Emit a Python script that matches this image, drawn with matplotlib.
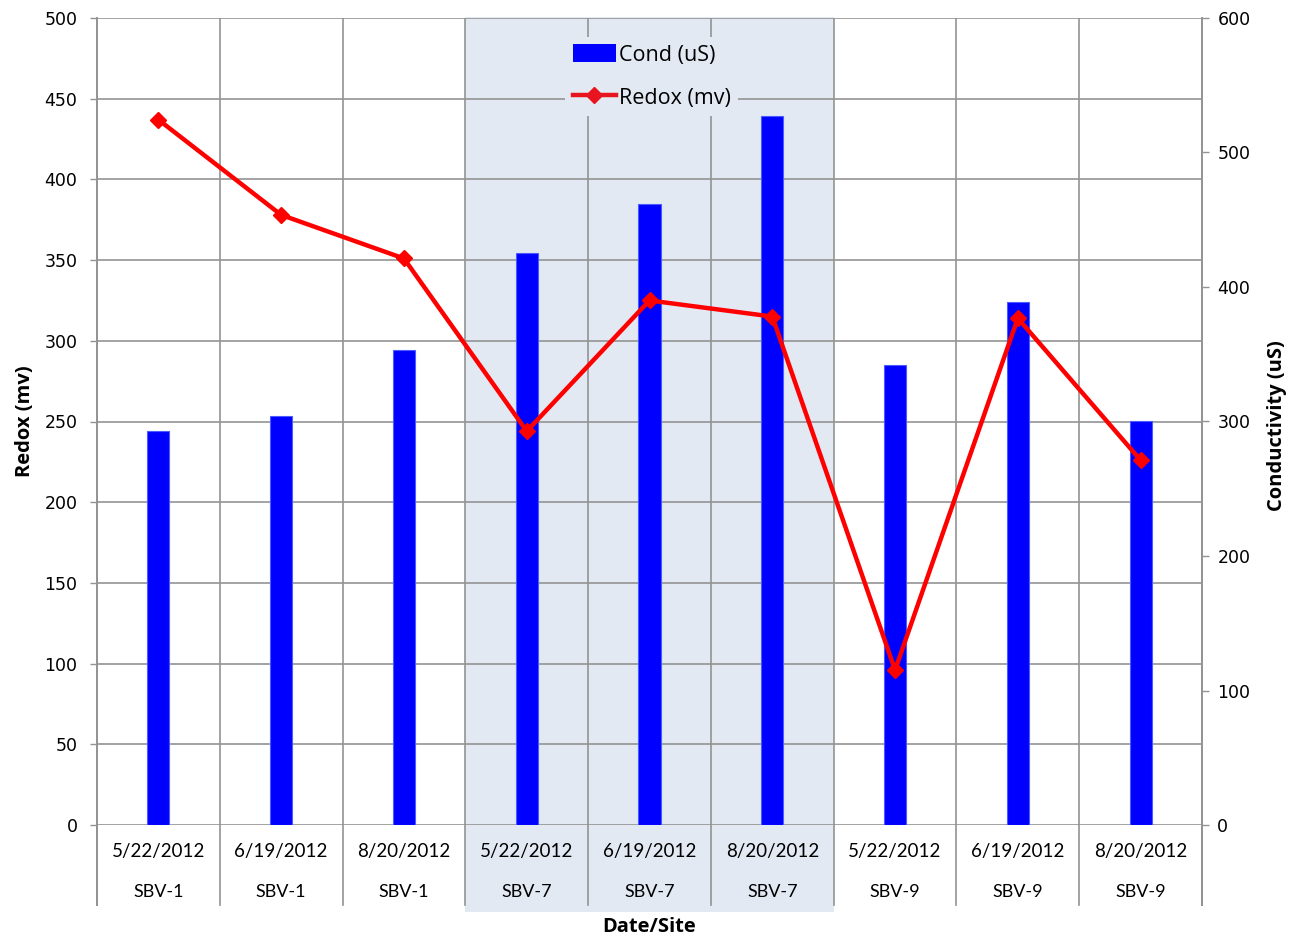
import matplotlib
matplotlib.use("Agg")
import matplotlib.pyplot as plt
from matplotlib.patches import Rectangle
from matplotlib.lines import Line2D
from matplotlib.transforms import blended_transform_factory

# Sampling dates and sites
dates = ["5/22/2012", "6/19/2012", "8/20/2012"] * 3
sites = ["SBV-1"] * 3 + ["SBV-7"] * 3 + ["SBV-9"] * 3

# Measurements
cond_us = [293, 304, 353, 425, 462, 527, 342, 389, 300]
redox_mv = [437, 378, 351, 244, 325, 315, 96, 314, 226]

redox_ticks = list(range(0, 501, 50))
cond_ticks = list(range(0, 601, 100))

GRID = "#939393"
SHADE = "#E2E9F3"
BLUE = "#0000FF"
RED = "#FF0000"
LABEL_FONT = ["Open Sans", "DejaVu Sans"]
CAT_FONT = ["Lato", "DejaVu Sans"]

fig = plt.figure(figsize=(12.93, 9.41), dpi=100)
ax = fig.add_axes([97 / 1293, 1 - 825 / 941, 1105 / 1293, 807 / 941])
n = len(cond_us)
x = list(range(n))

ax.set_xlim(-0.5, n - 0.5)
ax.set_ylim(0, 500)
ax.set_yticks(redox_ticks)
ax.set_xticks([])
ax.tick_params(axis="y", direction="out", length=5, width=1, color=GRID,
               labelsize=12.5, pad=9)
for lab in ax.get_yticklabels():
    lab.set_family("DejaVu Sans")

# Shaded block behind the SBV-7 group, running down through its labels
trans = blended_transform_factory(ax.transData, ax.transAxes)
ax.add_patch(Rectangle((2.5, -0.108), 3.0, 1.109, transform=trans,
                       facecolor=SHADE, edgecolor="none", clip_on=False, zorder=0))

# Horizontal grid and category dividers
for v in redox_ticks[1:]:
    ax.axhline(v, color=GRID, lw=1.2, zorder=1)
for k in range(n + 1):
    xb = k - 0.5
    ax.plot([xb, xb], [0, 1], transform=trans, color=GRID, lw=1.2, zorder=1)
    ax.plot([xb, xb], [-0.099, 0], transform=trans, color=GRID, lw=1.2,
            zorder=1, clip_on=False)
ax.axhline(0, color=GRID, lw=1.2, zorder=1)

for s in ax.spines.values():
    s.set_visible(False)

# Two-level category labels
for i in range(n):
    ax.text(i, -0.033, dates[i], transform=trans, ha="center", va="center",
            fontsize=13.5, family=CAT_FONT)
    ax.text(i, -0.083, sites[i], transform=trans, ha="center", va="center",
            fontsize=13, family=CAT_FONT)

ax.text(0.5, -0.127, "Date/Site", transform=ax.transAxes, ha="center",
        va="center", fontsize=14.5, fontweight="bold", family=LABEL_FONT)
fig.text(25 / 1293, 1 - 421 / 941, "Redox (mv)", rotation=90, ha="center",
         va="center", fontsize=14.5, fontweight="bold", family=LABEL_FONT)
fig.text(1277 / 1293, 1 - 426 / 941, "Conductivity (uS)", rotation=90,
         ha="center", va="center", fontsize=14.5, fontweight="bold",
         family=LABEL_FONT)

# Conductivity bars on the right-hand scale
ax2 = ax.twinx()
ax2.set_ylim(0, 600)
ax2.set_yticks(cond_ticks)
ax2.tick_params(axis="y", direction="out", length=5, width=1, color=GRID,
                labelsize=12.5, pad=6)
for lab in ax2.get_yticklabels():
    lab.set_family("DejaVu Sans")
for s in ax2.spines.values():
    s.set_visible(False)
ax2.bar(x, cond_us, width=0.18, color=BLUE, edgecolor="#4a5cff",
        linewidth=0.8, zorder=2)

# Redox line on top, sharing the left-hand scale
ax3 = ax.twinx()
ax3.set_ylim(0, 500)
ax3.set_yticks([])
for s in ax3.spines.values():
    s.set_visible(False)
ax3.plot(x, redox_mv, color=RED, lw=3.2, marker="D", markersize=8.5,
         zorder=3)

# Axis lines reaching down through the label rows
for xb in (-0.5, n - 0.5):
    ax3.plot([xb, xb], [-0.099, 1], transform=trans, color=GRID, lw=1.4,
             clip_on=False, zorder=4)

handles = [Rectangle((0, 0), 1, 1, facecolor=BLUE, edgecolor="none"),
           Line2D([0], [0], color="#E8151F", lw=3.2, marker="D", markersize=8.5)]
leg = ax3.legend(handles, ["Cond (uS)", "Redox (mv)"], loc="upper center",
                 bbox_to_anchor=(0.502, 0.99), frameon=True, facecolor=SHADE,
                 edgecolor="none", framealpha=1, fancybox=False,
                 prop={"family": LABEL_FONT, "size": 15.5}, handlelength=2.0,
                 handleheight=0.9, handletextpad=0.15, labelspacing=1.0,
                 borderpad=0.35)

fig.savefig("out.png", dpi=100, facecolor="white")
